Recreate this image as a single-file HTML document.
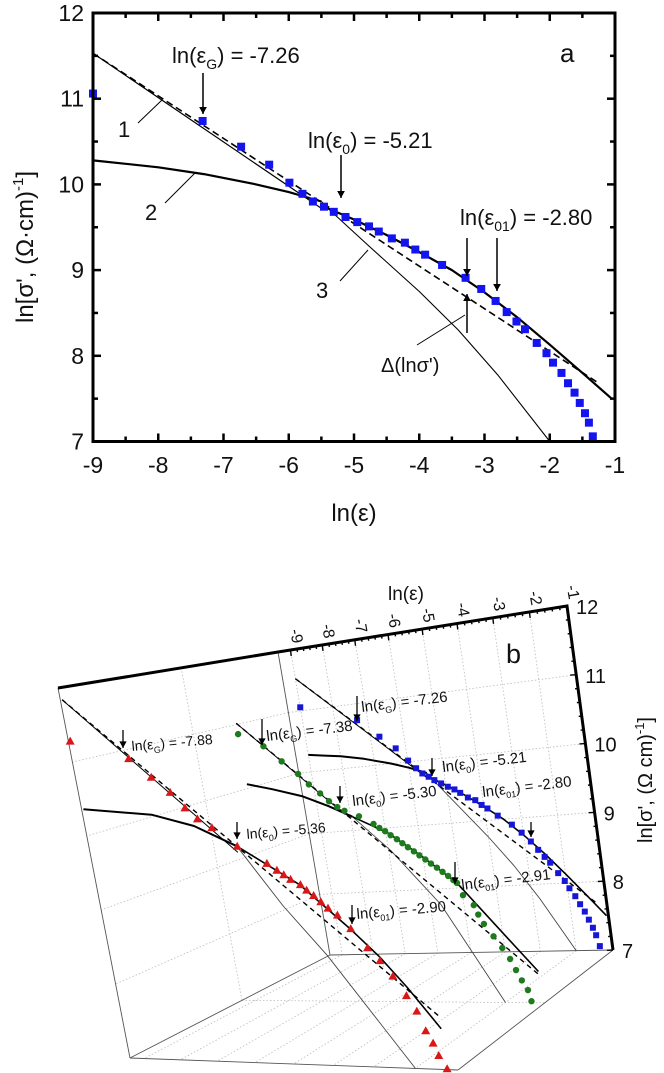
<!DOCTYPE html>
<html><head><meta charset="utf-8"><style>
html,body{margin:0;padding:0;background:#fff;}
svg{display:block;font-family:"Liberation Sans",Arial,sans-serif;}
</style></head><body>
<svg id="fig" width="664" height="1073" viewBox="0 0 664 1073" xmlns="http://www.w3.org/2000/svg">
<g id="pa"></g>
<g id="pb"></g>
<g font-size="22" fill="#111">
  <text transform="translate(33,247) rotate(-90)" text-anchor="middle" font-size="24">ln[σ', (Ω·cm)<tspan font-size="15" dy="-10">-1</tspan><tspan dy="10">]</tspan></text>
  <text x="354" y="521" text-anchor="middle" font-size="24">ln(ε)</text>
  <text x="560" y="62" font-size="26">a</text>
  <text x="172" y="63">ln(ε<tspan font-size="14" dy="6">G</tspan><tspan dy="-6">) = -7.26</tspan></text>
  <text x="308" y="148">ln(ε<tspan font-size="14" dy="6">0</tspan><tspan dy="-6">) = -5.21</tspan></text>
  <text x="460" y="225">ln(ε<tspan font-size="14" dy="6">01</tspan><tspan dy="-6">) = -2.80</tspan></text>
  <text x="381" y="372" font-size="20">Δ(lnσ')</text>
  <text x="118" y="137">1</text>
  <text x="145" y="220">2</text>
  <text x="316" y="298">3</text>
</g>
<g font-size="15" fill="#111">
  <text x="388" y="600" font-size="19">ln(ε)</text>
  <text x="506" y="663" font-size="27">b</text>
  <text transform="translate(652,780) rotate(-90)" text-anchor="middle" font-size="20">ln[σ', (Ω cm)<tspan font-size="13" dy="-8">-1</tspan><tspan dy="8">]</tspan></text>
  <text transform="translate(362,712) rotate(-7)">ln(ε<tspan font-size="9" dy="4">G</tspan><tspan dy="-4">) = -7.26</tspan></text>
  <text transform="translate(443,772) rotate(-7)">ln(ε<tspan font-size="9" dy="4">0</tspan><tspan dy="-4">) = -5.21</tspan></text>
  <text transform="translate(483,797) rotate(-7)">ln(ε<tspan font-size="9" dy="4">01</tspan><tspan dy="-4">) = -2.80</tspan></text>
  <text transform="translate(267,741) rotate(-7)">ln(ε<tspan font-size="9" dy="4">G</tspan><tspan dy="-4">) = -7.38</tspan></text>
  <text transform="translate(353,806) rotate(-7)">ln(ε<tspan font-size="9" dy="4">0</tspan><tspan dy="-4">) = -5.30</tspan></text>
  <text transform="translate(462,890) rotate(-7)">ln(ε<tspan font-size="9" dy="4">01</tspan><tspan dy="-4">) = -2.91</tspan></text>
  <text transform="translate(132,751) rotate(-5)" font-size="14">ln(ε<tspan font-size="9" dy="4">G</tspan><tspan dy="-4">) = -7.88</tspan></text>
  <text transform="translate(247,839) rotate(-5)" font-size="14">ln(ε<tspan font-size="9" dy="4">0</tspan><tspan dy="-4">) = -5.36</tspan></text>
  <text transform="translate(357,919) rotate(-5)" font-size="15">ln(ε<tspan font-size="9" dy="4">01</tspan><tspan dy="-4">) = -2.90</tspan></text>
</g>
</svg>
<script>
// ===== Panel a data =====
const aXTicks = [-9,-8,-7,-6,-5,-4,-3,-2,-1];
const aYTicks = [7,8,9,10,11,12];
const blueX = [-9,-7.32,-6.73,-6.30,-5.99,-5.79,-5.63,-5.46,-5.31,-5.13,-4.95,-4.77,-4.62,-4.42,-4.22,-4.06,-3.91,-3.65,-3.29,-3.05,-2.83,-2.66,-2.51,-2.38,-2.20,-2.05,-1.95,-1.82,-1.72,-1.62,-1.54,-1.46,-1.40,-1.34];
const blueY = [11.06,10.74,10.44,10.23,10.02,9.89,9.80,9.74,9.68,9.62,9.56,9.51,9.45,9.37,9.32,9.24,9.18,9.06,8.91,8.78,8.64,8.51,8.40,8.31,8.15,8.03,7.92,7.80,7.68,7.57,7.45,7.33,7.22,7.06];
const blueLine1X = [-9,-5.5];
const blueLine1Y = [11.53,9.72];
const blueDashX = [-9,-1.25];
const blueDashY = [11.53,7.68];
const blueFitX = [-5.4,-5,-4.5,-4,-3.5,-3,-2.5,-2,-1.5,-1.05];
const blueFitY = [9.72,9.59,9.41,9.21,9.0,8.74,8.45,8.13,7.8,7.5];
const blueC2X = [-9,-8.5,-8,-7.3,-6.5,-6,-5.5];
const blueC2Y = [10.28,10.24,10.2,10.12,10.0,9.91,9.8];
const blueC3X = [-5.5,-5.4,-4.8,-4,-3.4,-2.8,-2.0];
const blueC3Y = [9.8,9.72,9.3,8.75,8.3,7.78,7.0];

// ===== Panel b data (green, red series) =====
const bXTicks = [-9,-8,-7,-6,-5,-4,-3,-2,-1];
const bYTicks = [7,8,9,10,11,12];
const greenX = [-8.1,-7.44,-7.0,-6.6,-6.35,-6.08,-5.87,-5.67,-5.49,-5.12,-4.76,-4.62,-4.48,-4.35,-4.2,-4.07,-3.94,-3.8,-3.67,-3.53,-3.4,-3.26,-3.13,-3.0,-2.88,-2.8,-2.69,-2.45,-2.37,-2.26,-2.06,-1.88,-1.72,-1.61,-1.5,-1.38,-1.33];
const greenY = [10.94,10.73,10.49,10.29,10.13,9.99,9.87,9.78,9.72,9.63,9.51,9.45,9.4,9.34,9.28,9.22,9.16,9.1,9.04,8.98,8.92,8.86,8.8,8.74,8.68,8.64,8.47,8.33,8.2,8.07,7.9,7.74,7.59,7.44,7.3,7.17,7.02];
const greenLine1X = [-8.1,-5.5];
const greenLine1Y = [11.1,9.67];
const greenDashX = [-8.1,-1.05];
const greenDashY = [11.1,7.38];
const greenC2X = [-8.1,-7.4,-6.6,-5.9,-5.3];
const greenC2Y = [10.2,10.1,9.97,9.8,9.63];
const greenC3X = [-5.3,-4.4,-3.3,-2.0];
const greenC3Y = [9.63,9.12,8.35,7.0];
const greenFitX = [-5.3,-4.4,-3.6,-2.8,-1.75,-1.05];
const greenFitY = [9.63,9.37,9.02,8.64,7.9,7.42];

const redX = [-9.35,-7.88,-7.38,-6.96,-6.65,-6.38,-6.05,-5.49,-4.82,-4.6,-4.45,-4.3,-4.08,-3.95,-3.8,-3.65,-3.5,-3.3,-3.03,-2.7,-2.45,-2.2,-1.95,-1.76,-1.62,-1.49,-1.4,-1.25];
const redY = [11.28,11.0,10.74,10.53,10.32,10.17,10.05,9.80,9.57,9.48,9.42,9.36,9.29,9.22,9.15,9.07,8.99,8.90,8.73,8.49,8.33,8.14,7.90,7.71,7.47,7.32,7.17,7.01];
const redLine1X = [-9.35,-5.5];
const redLine1Y = [11.84,9.72];
const redDashX = [-9.35,-1.25];
const redDashY = [11.84,7.65];
const redC2X = [-9.35,-7.55,-6.5,-5.5];
const redC2Y = [10.36,10.25,10.08,9.8];
const redC3X = [-5.5,-4.6,-3.7,-2.0];
const redC3Y = [9.8,9.03,8.39,7.0];
const redFitX = [-5.5,-4.1,-3.05,-2.45,-1.9,-1.25];
const redFitY = [9.8,9.29,8.73,8.38,8.0,7.5];

const NS = 'http://www.w3.org/2000/svg';
function mk(parent, tag, attrs, name) {
  const el = document.createElementNS(NS, tag);
  for (const k in attrs) el.setAttribute(k, attrs[k]);
  
  
  parent.appendChild(el);
  return el;
}
function poly(parent, pts, attrs, name) {
  const a = Object.assign({points: pts.map(p => p[0].toFixed(1) + ',' + p[1].toFixed(1)).join(' '), fill: 'none'}, attrs);
  return mk(parent, 'polyline', a, name);
}
function arrowV(parent, x, y1, y2, w, name) {
  mk(parent, 'line', {x1: x, y1: y1, x2: x, y2: y2, stroke: '#000', 'stroke-width': w}, name);
  const d = y2 > y1 ? 1 : -1;
  const h = 4 + w * 2;
  mk(parent, 'path', {d: `M${x - h * 0.55},${y2 - d * h} L${x},${y2} L${x + h * 0.55},${y2 - d * h} Z`, fill: '#000'}, name + '-head');
}

// ===== Panel a =====
const pa = document.getElementById('pa');
const AX = v => 93 + (v + 9) * 65.25;
const AY = v => 13 + (12 - v) * 85.7;
const L = AX(-9), R = AX(-1), T = AY(12), B = AY(7);
for (let v = -9; v <= -1.001; v += 0.5) {
  const major = Math.abs(v - Math.round(v)) < 1e-6;
  const len = major ? 8 : 5;
  mk(pa, 'line', {x1: AX(v), y1: B, x2: AX(v), y2: B - len, stroke: '#000', 'stroke-width': 2.5}, 'x-tick-bottom');
  mk(pa, 'line', {x1: AX(v), y1: T, x2: AX(v), y2: T + len, stroke: '#000', 'stroke-width': 2.5}, 'x-tick-top');
}
for (let v = 7; v <= 12.001; v += 0.5) {
  const major = Math.abs(v - Math.round(v)) < 1e-6;
  const len = major ? 8 : 5;
  mk(pa, 'line', {x1: L, y1: AY(v), x2: L + len, y2: AY(v), stroke: '#000', 'stroke-width': 2.5}, 'y-tick-left');
  mk(pa, 'line', {x1: R, y1: AY(v), x2: R - len, y2: AY(v), stroke: '#000', 'stroke-width': 2.5}, 'y-tick-right');
}
aXTicks.forEach(v => {
  const t = mk(pa, 'text', {x: AX(v), y: 473, 'text-anchor': 'middle', 'font-size': 23, fill: '#111'}, 'x-tick-label');
  t.textContent = String(v);
});
aYTicks.forEach(v => {
  const t = mk(pa, 'text', {x: 84, y: AY(v) + 8, 'text-anchor': 'end', 'font-size': 23, fill: '#111'}, 'y-tick-label');
  t.textContent = String(v);
});
const zipA = (xs, ys) => xs.map((x, i) => [AX(x), AY(ys[i])]);
poly(pa, zipA(blueLine1X, blueLine1Y), {stroke: '#000', 'stroke-width': 1.2}, 'line-1');
poly(pa, zipA(blueDashX, blueDashY), {stroke: '#000', 'stroke-width': 1.6, 'stroke-dasharray': '7 4'}, 'dashed-line');
poly(pa, zipA(blueC2X, blueC2Y), {stroke: '#000', 'stroke-width': 2.2, 'stroke-linejoin': 'round'}, 'curve-2');
poly(pa, zipA(blueC3X, blueC3Y), {stroke: '#000', 'stroke-width': 1.1, 'stroke-linejoin': 'round'}, 'curve-3');
poly(pa, zipA(blueFitX, blueFitY), {stroke: '#000', 'stroke-width': 2.2, 'stroke-linejoin': 'round'}, 'fit-curve');
blueX.forEach((x, i) => {
  mk(pa, 'rect', {x: AX(x) - 4, y: AY(blueY[i]) - 4, width: 8, height: 8, fill: '#1414f0'}, 'data-point-blue');
});
mk(pa, 'rect', {x: L, y: T, width: R - L, height: B - T, fill: 'none', stroke: '#000', 'stroke-width': 3}, 'plot-frame-a');
arrowV(pa, 203, 73, 114, 1.5, 'arrow-eps-g');
arrowV(pa, 341, 155, 198, 1.5, 'arrow-eps-0');
arrowV(pa, 467, 238, 276, 1.5, 'arrow-eps-01-down');
arrowV(pa, 467, 333, 294, 1.5, 'arrow-delta-up');
arrowV(pa, 497, 238, 291, 1.5, 'arrow-eps-01');
mk(pa, 'line', {x1: 417, y1: 345, x2: 465, y2: 315, stroke: '#000', 'stroke-width': 1}, 'leader-delta');
mk(pa, 'line', {x1: 138, y1: 123, x2: 162, y2: 100, stroke: '#000', 'stroke-width': 1}, 'leader-1');
mk(pa, 'line', {x1: 165, y1: 203, x2: 195, y2: 173, stroke: '#000', 'stroke-width': 1}, 'leader-2');
mk(pa, 'line', {x1: 340, y1: 281, x2: 368, y2: 250, stroke: '#000', 'stroke-width': 1}, 'leader-3');

// ===== Panel b (3D) =====
const pb = document.getElementById('pb');
const BACK = {TL: [278, 652], TR: [567, 606], BR: [613, 950], BL: [330, 955]};
const FRONT = {TL: [58, 688], TR: [398, 660], BR: [458, 1070], BL: [130, 1058]};
const X0 = -9.4, X1 = -1;
function persp(u) { return u / (1.105 - 0.105 * u); }
function lerp(a, b, s) { return [a[0] + (b[0] - a[0]) * s, a[1] + (b[1] - a[1]) * s]; }
function P(x, y, s) {
  const u = persp((x - X0) / (X1 - X0));
  const v = (12 - y) / 5;
  const TL = lerp(BACK.TL, FRONT.TL, s), TR = lerp(BACK.TR, FRONT.TR, s);
  const BR = lerp(BACK.BR, FRONT.BR, s), BL = lerp(BACK.BL, FRONT.BL, s);
  const w1 = (1 - u) * (1 - v), w2 = u * (1 - v), w3 = u * v, w4 = (1 - u) * v;
  return [w1 * TL[0] + w2 * TR[0] + w3 * BR[0] + w4 * BL[0], w1 * TL[1] + w2 * TR[1] + w3 * BR[1] + w4 * BL[1]];
}

const dot = {stroke: '#bbb', 'stroke-width': 0.8, 'stroke-dasharray': '1.5 2'};
const thin = {stroke: '#555', 'stroke-width': 0.9};
function segB(a, b, attrs, name) { mk(pb, 'line', Object.assign({x1: a[0], y1: a[1], x2: b[0], y2: b[1]}, attrs), name); }
for (let x = -9; x <= -2; x++) segB(P(x, 12, 0), P(x, 7, 0), dot, 'back-grid-vertical');
for (let y = 8; y <= 11; y++) segB(P(X0, y, 0), P(X1, y, 0), dot, 'back-grid-horizontal');
for (let y = 8; y <= 11; y++) segB(P(X0, y, 0), P(X0, y, 1), dot, 'side-grid-horizontal');
segB(P(X0, 12, 0.44), P(X0, 7, 0.44), dot, 'side-grid-vertical');
for (let x = -9; x <= -2; x++) segB(P(x, 7, 0), P(x, 7, 1), dot, 'floor-grid');
segB(P(X0, 7, 0.44), P(X1, 7, 0.44), dot, 'floor-grid-across');
segB(BACK.TL, BACK.BL, thin, 'box-edge-back-left');
segB(BACK.BL, BACK.BR, thin, 'box-edge-back-bottom');
segB(BACK.BL, FRONT.BL, thin, 'box-edge-floor-left');
segB(FRONT.BL, FRONT.BR, thin, 'box-edge-front-bottom');
segB(BACK.BR, FRONT.BR, thin, 'box-edge-floor-right');
segB(FRONT.TL, FRONT.BL, thin, 'box-edge-front-left');

function series(s, d, col, marker, nm) {
  const zip = (xs, ys) => xs.map((x, i) => P(x, ys[i], s));
  poly(pb, zip(d.c3x, d.c3y), {stroke: '#444', 'stroke-width': 0.9}, nm + '-curve-3');
  poly(pb, zip(d.l1x, d.l1y), {stroke: '#000', 'stroke-width': 1}, nm + '-line-1');
  poly(pb, zip(d.dx, d.dy), {stroke: '#000', 'stroke-width': 1.4, 'stroke-dasharray': '5 4'}, nm + '-dashed-line');
  poly(pb, zip(d.c2x, d.c2y), {stroke: '#000', 'stroke-width': 2, 'stroke-linejoin': 'round'}, nm + '-curve-2');
  poly(pb, zip(d.fx, d.fy), {stroke: '#000', 'stroke-width': 1.6, 'stroke-linejoin': 'round'}, nm + '-fit-curve');
  d.x.forEach((x, i) => {
    const p = P(x, d.y[i], s);
    if (marker === 'sq') mk(pb, 'rect', {x: p[0] - 3, y: p[1] - 3, width: 6, height: 6, fill: col}, nm + '-data-point');
    else if (marker === 'ci') mk(pb, 'circle', {cx: p[0], cy: p[1], r: 3.2, fill: col}, nm + '-data-point');
    else mk(pb, 'path', {d: `M${p[0]},${p[1] - 4.5} L${p[0] + 4.5},${p[1] + 3.5} L${p[0] - 4.5},${p[1] + 3.5} Z`, fill: col}, nm + '-data-point');
  });
}
series(0, {x: blueX, y: blueY, l1x: blueLine1X, l1y: blueLine1Y, dx: blueDashX, dy: blueDashY, c2x: blueC2X, c2y: blueC2Y, c3x: blueC3X, c3y: blueC3Y, fx: blueFitX, fy: blueFitY}, '#1616d8', 'sq', 'blue');
series(0.44, {x: greenX, y: greenY, l1x: greenLine1X, l1y: greenLine1Y, dx: greenDashX, dy: greenDashY, c2x: greenC2X, c2y: greenC2Y, c3x: greenC3X, c3y: greenC3Y, fx: greenFitX, fy: greenFitY}, '#1d7a1d', 'ci', 'green');
series(1, {x: redX, y: redY, l1x: redLine1X, l1y: redLine1Y, dx: redDashX, dy: redDashY, c2x: redC2X, c2y: redC2Y, c3x: redC3X, c3y: redC3Y, fx: redFitX, fy: redFitY}, '#d81818', 'tr', 'red');

poly(pb, [FRONT.TL, BACK.TL, BACK.TR, BACK.BR], {stroke: '#000', 'stroke-width': 3, 'stroke-linejoin': 'miter'}, 'axis-frame-b');
for (let x = -9; x <= -1.001; x += 0.2) {
  const major = Math.abs(x - Math.round(x)) < 1e-6;
  const p = P(x, 12, 0);
  mk(pb, 'line', {x1: p[0], y1: p[1], x2: p[0] + 0.7, y2: p[1] + (major ? 6 : 3), stroke: '#000', 'stroke-width': 1.4}, 'x-tick-b');
}
bXTicks.forEach(x => {
  const p = P(x, 12, 0);
  const t = mk(pb, 'text', {transform: `translate(${(p[0] + 2).toFixed(1)},${(p[1] - 6).toFixed(1)}) rotate(80)`, 'text-anchor': 'end', 'font-size': 16, fill: '#111'}, 'x-tick-label-b');
  t.textContent = String(x);
});
for (let y = 7; y <= 12.001; y += 0.2) {
  const major = Math.abs(y - Math.round(y)) < 1e-6;
  const p = P(X1, y, 0);
  mk(pb, 'line', {x1: p[0], y1: p[1], x2: p[0] - (major ? 6 : 3), y2: p[1] + 0.3, stroke: '#000', 'stroke-width': 1.4}, 'y-tick-b');
}
bYTicks.forEach(y => {
  const p = P(X1, y, 0);
  const t = mk(pb, 'text', {x: (p[0] + 9).toFixed(1), y: (p[1] + 8).toFixed(1), 'font-size': 20, fill: '#111'}, 'y-tick-label-b');
  t.textContent = String(y);
});
arrowV(pb, 357, 696, 721, 1.3, 'arrow-blue-eps-g');
arrowV(pb, 432, 758, 776, 1.3, 'arrow-blue-eps-0');
arrowV(pb, 531, 822, 837, 1.3, 'arrow-blue-eps-01');
arrowV(pb, 262, 719, 745, 1.3, 'arrow-green-eps-g');
arrowV(pb, 340, 786, 803, 1.3, 'arrow-green-eps-0');
arrowV(pb, 455, 862, 884, 1.3, 'arrow-green-eps-01');
arrowV(pb, 123, 730, 748, 1.3, 'arrow-red-eps-g');
arrowV(pb, 237, 822, 839, 1.3, 'arrow-red-eps-0');
arrowV(pb, 352, 905, 924, 1.3, 'arrow-red-eps-01');
</script>
</body></html>
